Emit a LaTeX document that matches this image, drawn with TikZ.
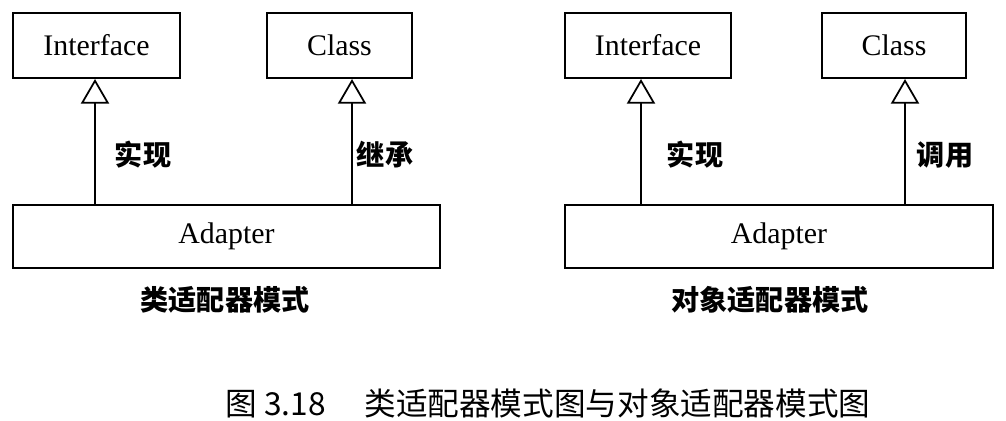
\documentclass[tikz,border=0pt]{standalone}
\usepackage{fontspec}
\setmainfont{Liberation Serif}
\newfontfamily\cjk{Noto Sans CJK SC}
\usetikzlibrary{arrows.meta}
\begin{document}
\begin{tikzpicture}[x=0.02cm,y=-0.02cm,
  box/.style={draw,line width=1.2pt,inner sep=0},
  lbl/.style={font=\fontsize{17}{19}\selectfont},
  cl/.style={font=\cjk\bfseries\fontsize{16}{18}\selectfont},
  inh/.style={line width=1pt,-{Triangle[open,width=16pt,length=14pt]}}]
\useasboundingbox (0,0) rectangle (1006,421);
% left
\node[box,minimum width=167*0.02cm,minimum height=65*0.02cm,lbl] (i1) at (96.5,45.5) {Interface};
\node[box,minimum width=145*0.02cm,minimum height=65*0.02cm,lbl] (c1) at (339.5,45.5) {Class};
\node[box,minimum width=427*0.02cm,minimum height=63*0.02cm,lbl] (a1) at (226.5,236.5) {Adapter};
\draw[inh] (a1.north -| 95,0) -- (i1.south -| 95,0);
\draw[inh] (a1.north -| 352,0) -- (c1.south -| 352,0);
\node[cl] (t1) at (143,155) {实现};
\node[cl] (t2) at (385,155) {继承};
\node[cl] (cap1) at (225,300) {类适配器模式};
% right
\node[box,minimum width=166*0.02cm,minimum height=65*0.02cm,lbl] (i2) at (648,45.5) {Interface};
\node[box,minimum width=144*0.02cm,minimum height=65*0.02cm,lbl] (c2) at (894,45.5) {Class};
\node[box,minimum width=428*0.02cm,minimum height=63*0.02cm,lbl] (a2) at (779,236.5) {Adapter};
\draw[inh] (a2.north -| 641,0) -- (i2.south -| 641,0);
\draw[inh] (a2.north -| 905,0) -- (c2.south -| 905,0);
\node[cl] (t3) at (695,155) {实现};
\node[cl] (t4) at (945,155) {调用};
\node[cl] (cap2) at (770,300) {对象适配器模式};
\node[font=\cjk\fontsize{18}{20}\selectfont\mdseries] (cap) at (548,403) {图 3.18\quad\ 类适配器模式图与对象适配器模式图};
\end{tikzpicture}
\end{document}
